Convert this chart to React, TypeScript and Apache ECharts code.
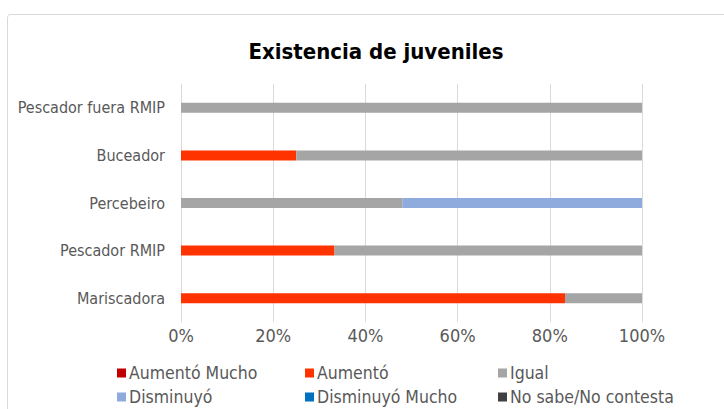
import React, { useEffect, useRef } from "react";
import * as echarts from "echarts";

const categories = ["Mariscadora", "Pescador RMIP", "Percebeiro", "Buceador", "Pescador fuera RMIP"];
const seriesNames = ["Aumentó Mucho", "Aumentó", "Igual", "Disminuyó", "Disminuyó Mucho", "No sabe/No contesta"];
const aumentoMucho = [0, 0, 0, 0, 0];
const aumento = [83.3, 33.3, 0, 25, 0];
const igual = [16.7, 66.7, 48, 75, 100];
const disminuyo = [0, 0, 52, 0, 0];
const disminuyoMucho = [0, 0, 0, 0, 0];
const noSabe = [0, 0, 0, 0, 0];
const colors = ["#C00000", "#FF3300", "#A5A5A5", "#8FAADC", "#0070C0", "#404040"];
const xTicks = [0, 20, 40, 60, 80, 100];

const FONT = "'Liberation Sans Narrow', 'DejaVu Sans Condensed', 'Arial Narrow', sans-serif";

export default function App() {
  const ref = useRef<HTMLDivElement>(null);
  useEffect(() => {
    document.body.style.margin = "0";
    const chart = echarts.init(ref.current!, null, { renderer: "svg" });
    const data = [aumentoMucho, aumento, igual, disminuyo, disminuyoMucho, noSabe];
    const legendPos = [
      [117, 364], [305, 364], [498, 364],
      [117, 388], [305, 388], [498, 388],
    ];
    chart.setOption({
      animation: false,
      textStyle: { fontFamily: FONT },
      title: {
        text: "Existencia de juveniles",
        left: 371,
        textAlign: "center",
        top: 35,
        textStyle: { fontFamily: FONT, fontSize: 22, fontWeight: "bold", color: "#000" },
      },
      graphic: [
        {
          type: "rect",
          shape: { x: 7.5, y: 14.5, width: 760, height: 460, r: 3 },
          style: { fill: "none", stroke: "#D9D9D9", lineWidth: 1 },
          silent: true,
        },
      ],
      legend: seriesNames.map((n, i) => ({
        data: [n],
        left: legendPos[i][0],
        top: legendPos[i][1],
        itemWidth: 9,
        itemHeight: 9,
        itemGap: 4,
        padding: 0,
        icon: "rect",
        textStyle: { fontFamily: FONT, fontSize: 17.5, color: "#595959", padding: [0, 0, 0, -2] },
      })),
      grid: { left: 181, right: 82, top: 84, bottom: 87, containLabel: false },
      xAxis: {
        type: "value",
        min: 0,
        max: 100,
        interval: 20,
        axisLabel: {
          formatter: (v: number) => (xTicks.includes(v) ? v + "%" : ""),
          fontFamily: FONT,
          fontSize: 18,
          color: "#595959",
          margin: 4,
        },
        splitLine: { show: true, lineStyle: { color: "#D9D9D9", width: 1 } },
        axisLine: { show: false },
        axisTick: { show: false },
      },
      yAxis: {
        type: "category",
        data: categories,
        axisLabel: { fontFamily: FONT, fontSize: 16, color: "#595959", margin: 16 },
        axisLine: { show: true, lineStyle: { color: "#D9D9D9" } },
        axisTick: { show: false },
      },
      series: seriesNames.map((n, i) => ({
        name: n,
        type: "bar",
        stack: "total",
        data: data[i],
        barWidth: 10,
        itemStyle: { color: colors[i] },
      })),
    });
    return () => chart.dispose();
  }, []);
  return <div ref={ref} style={{ position: "absolute", left: 0, top: 0, width: 724, height: 409 }} />;
}
